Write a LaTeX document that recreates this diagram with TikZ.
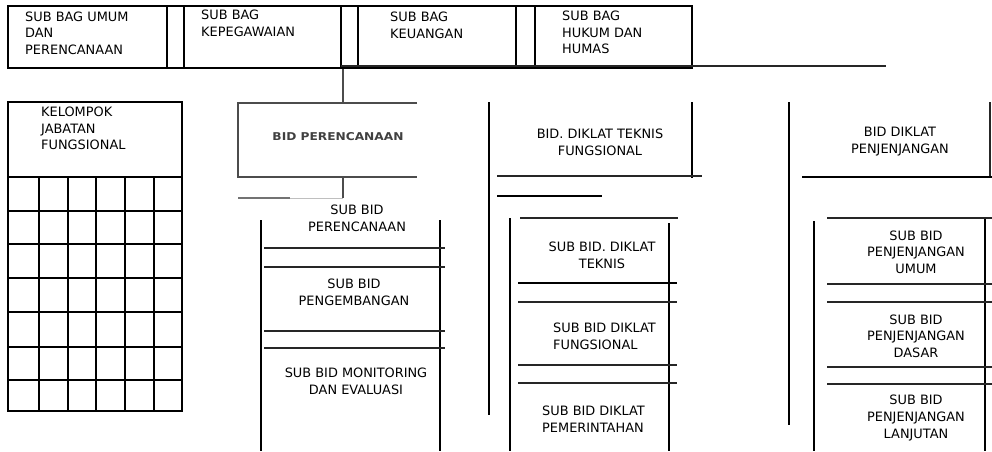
\documentclass[tikz,border=0pt]{standalone}
\usepackage{fontspec}
\setmainfont{DejaVu Sans}
\newcommand\lbfont{\fontsize{12.9}{16.6}\selectfont}
\begin{document}
\begin{tikzpicture}[x=1pt,y=-1pt,
  ln/.style={line width=1.4pt,black},
  tn/.style={line width=1.1pt,black!85},
  gl/.style={line width=1.3pt,black!70},
  lbl/.style={font=\lbfont,inner sep=0pt,align=center},
  lbll/.style={font=\lbfont,inner sep=0pt,align=left,anchor=west}]
\useasboundingbox (0,0) rectangle (992,451);
% ---------- top row ----------
\draw[ln] (8,6) rectangle (692,68);
\foreach \x in {167,184,341,358,516,535} \draw[ln] (\x,6) -- (\x,68);
\draw[tn] (341,66) -- (886,66);
\node[lbll] (sbu) at (25,33) {SUB BAG UMUM\\DAN\\PERENCANAAN};
\node[lbll] (sbk) at (201,23) {SUB BAG\\KEPEGAWAIAN};
\node[lbll] (sbq) at (390,25.5) {SUB BAG\\KEUANGAN};
\node[lbll] (sbh) at (562,32.5) {SUB BAG\\HUKUM DAN\\HUMAS};
% ---------- kelompok jabatan fungsional ----------
\draw[ln] (8,102) rectangle (182,411);
\foreach \y in {177,211,244,278,312,347,380} \draw[ln] (8,\y) -- (182,\y);
\foreach \x in {39,68,96,125,154} \draw[ln] (\x,177) -- (\x,411);
\draw[line width=2pt] (182,102) -- (182,411);
\node[lbll] (kjf) at (41,128.5) {KELOMPOK\\JABATAN\\FUNGSIONAL};
% ---------- bid perencanaan (scanned) ----------
\coordinate (c1) at (343,69);
\coordinate (c2) at (343,103);
\coordinate (c3) at (343,177);
\coordinate (c4) at (343,198);
\draw[gl] (c1) -- (c2);
\draw[gl] (417,103) -- (238,103) -- (238,177) -- (417,177);
\draw[gl] (c3) -- (c4);
\draw[line width=2pt,black!55] (238,198) -- (290,198);
\draw[line width=1pt,black!25] (290,198) -- (343,198);
\node[inner sep=0pt,text=black!75] (bp) at (338,137)
  {\resizebox{131pt}{8pt}{\bfseries BID PERENCANAAN}};
% ---------- sub bid perencanaan column ----------
\draw[ln] (261,220) -- (261,451);
\draw[ln] (440,220) -- (440,451);
\foreach \y in {248,267,331,348} \draw[tn] (264,\y) -- (445,\y);
\node[lbl] (sp1) at (357,218.5) {SUB BID\\PERENCANAAN};
\node[lbl] (sp2) at (354,292.5) {SUB BID\\PENGEMBANGAN};
\node[lbl] (sp3) at (356,381) {SUB BID MONITORING\\DAN EVALUASI};
% ---------- bid diklat teknis fungsional ----------
\draw[ln] (489,102) -- (489,415);
\draw[ln] (692,102) -- (692,178);
\draw[tn] (497,176) -- (702,176);
\draw[ln] (497,196) -- (602,196);
\node[lbl] (btf) at (600,142.5) {BID. DIKLAT TEKNIS\\FUNGSIONAL};
\draw[ln] (510,218) -- (510,451);
\draw[ln] (669,223) -- (669,451);
\draw[tn] (520,218) -- (678,218);
\draw[ln] (518,283) -- (677,283);
\foreach \y in {302,365,383} \draw[tn] (518,\y) -- (677,\y);
\node[lbl] (st1) at (602,255.5) {SUB BID. DIKLAT\\TEKNIS};
\node[lbll] (st2) at (553,336) {SUB BID DIKLAT\\FUNGSIONAL};
\node[lbll] (st3) at (542,419) {SUB BID DIKLAT\\PEMERINTAHAN};
% ---------- bid diklat penjenjangan ----------
\draw[ln] (789,102) -- (789,425);
\draw[tn] (990,102) -- (990,178);
\draw[ln] (802,177) -- (992,177);
\node[lbl] (bpj) at (900,141.5) {BID DIKLAT\\PENJENJANGAN};
\draw[ln] (814,221) -- (814,451);
\draw[ln] (985,219) -- (985,451);
\foreach \y in {218,284,302,367,384} \draw[tn] (827,\y) -- (992,\y);
\node[lbl] (sj1) at (916,252) {SUB BID\\PENJENJANGAN\\UMUM};
\node[lbl] (sj2) at (916,336) {SUB BID\\PENJENJANGAN\\DASAR};
\node[lbl] (sj3) at (916,418) {SUB BID\\PENJENJANGAN\\LANJUTAN};
\end{tikzpicture}
\end{document}
